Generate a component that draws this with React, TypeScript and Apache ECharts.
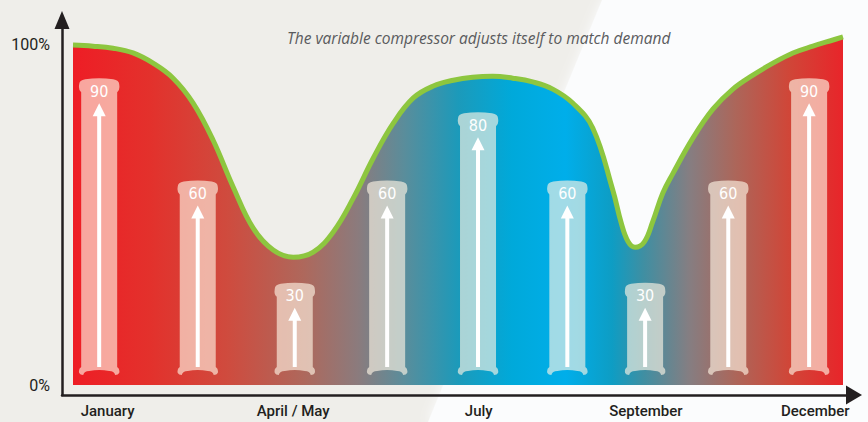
import React, { useEffect, useRef } from "react";
import * as echarts from "echarts";

// Position along the year (0 = start of the plotted area, 100 = end)
const curvePos = [0, 2.6, 5.2, 7.8, 10.4, 13.0, 15.6, 18.2, 20.8, 23.4, 26.0, 28.6, 31.2, 33.8, 36.4, 39.0, 41.6, 44.2, 46.8, 49.4, 51.9, 54.5, 57.1, 59.7, 62.3, 64.9, 67.5, 70.1, 71.2, 72.1, 73.0, 74.2, 75.3, 76.6, 77.9, 80.5, 83.1, 85.7, 88.3, 90.9, 93.5, 96.1, 98.7, 100];
// Compressor demand (%)
const curveValues = [99.7, 99.4, 98.8, 97.4, 94.4, 90.0, 82.7, 71.8, 58.1, 46.0, 39.6, 37.5, 39.0, 44.9, 54.8, 66.6, 76.8, 84.2, 87.7, 89.4, 90.3, 90.6, 90.0, 88.9, 86.8, 82.7, 75.4, 57.2, 47.5, 42.0, 40.4, 42.0, 48.0, 56.3, 62.0, 72.4, 80.9, 86.8, 90.9, 94.4, 97.4, 99.4, 101.2, 102.1];

const barPos = [3.4, 16.2, 28.8, 40.8, 52.6, 64.2, 74.3, 85.1, 95.6];
const barValues = [90, 60, 30, 60, 80, 60, 30, 60, 90];

const monthLabels = ["January", "April / May", "July", "September", "December"];
const monthLabelPos = [4.5, 28.6, 52.7, 74.4, 96.4];

const yTickValues = [0, 100];

const titleText = "The variable compressor adjusts itself to match demand";

const AXIS_COLOR = "#231f20";
const FONT = "Roboto, 'DejaVu Sans', sans-serif";
const NUM_FONT = "'DejaVu Sans Condensed', 'Liberation Sans Narrow', Roboto, sans-serif";

export default function App() {
  const ref = useRef<HTMLDivElement>(null);

  useEffect(() => {
    if (!ref.current) return;
    const chart = echarts.init(ref.current, undefined, { renderer: "svg" });

    const gradient = new echarts.graphic.LinearGradient(0, 0, 1, 0, [
      { offset: 0, color: "#ee1d25" },
      { offset: 0.1, color: "#e3312c" },
      { offset: 0.2, color: "#cf4b3e" },
      { offset: 0.3, color: "#ae685c" },
      { offset: 0.37, color: "#8b7b7d" },
      { offset: 0.43, color: "#5a8d9b" },
      { offset: 0.5, color: "#1c9aba" },
      { offset: 0.57, color: "#00a9da" },
      { offset: 0.64, color: "#00aeea" },
      { offset: 0.7, color: "#0e9dc4" },
      { offset: 0.74, color: "#3e8fa3" },
      { offset: 0.8, color: "#857e82" },
      { offset: 0.86, color: "#ac665a" },
      { offset: 0.93, color: "#d04638" },
      { offset: 1, color: "#e8252a" },
    ]);

    const option: any = {
      animation: false,
      backgroundColor: "#efeeea",
      title: {
        text: titleText,
        left: 282,
        top: 25,
        textStyle: {
          fontFamily: "'Open Sans', Roboto, sans-serif",
          fontStyle: "italic",
          fontWeight: "normal",
          fontSize: 15.5,
          color: "#5a5b5d",
        },
      },
      graphic: [
        {
          type: "polygon",
          z: -10,
          silent: true,
          shape: { points: [[602, 0], [868, 0], [868, 422], [428, 422]] },
          style: { fill: "#fbfcfd", shadowBlur: 12, shadowColor: "#fbfcfd" },
        },
      ],
      grid: [
        { left: 62, top: 20, right: 14, bottom: 27 },
        { left: 73, top: 10, right: 25, bottom: 37 },
      ],
      xAxis: [
        {
          gridIndex: 0,
          type: "value",
          min: 0,
          max: 1,
          axisLine: {
            show: true,
            symbol: ["none", "triangle"],
            symbolSize: [19, 16],
            lineStyle: { color: AXIS_COLOR, width: 2.5 },
          },
          axisTick: { show: false },
          axisLabel: { show: false },
          splitLine: { show: false },
        },
        {
          gridIndex: 1,
          type: "value",
          min: 0,
          max: 100,
          axisLine: { show: false },
          axisTick: { show: false },
          splitLine: { show: false },
          axisLabel: {
            customValues: monthLabelPos,
            formatter: (v: number) => {
              const i = monthLabelPos.findIndex((p) => Math.abs(p - v) < 1e-6);
              return i >= 0 ? monthLabels[i] : "";
            },
            margin: 18,
            fontFamily: FONT,
            fontSize: 15,
            fontWeight: 500,
            color: AXIS_COLOR,
          },
        },
      ],
      yAxis: [
        {
          gridIndex: 0,
          type: "value",
          min: 0,
          max: 1,
          axisLine: {
            show: true,
            symbol: ["none", "triangle"],
            symbolSize: [15, 18],
            lineStyle: { color: AXIS_COLOR, width: 2.5 },
          },
          axisTick: { show: false },
          axisLabel: { show: false },
          splitLine: { show: false },
        },
        {
          gridIndex: 1,
          type: "value",
          min: 0,
          max: 110,
          axisLine: { show: false },
          axisTick: { show: false },
          splitLine: { show: false },
          axisLabel: {
            customValues: yTickValues,
            formatter: (v: number) => `${v}%`,
            margin: 23,
            fontFamily: FONT,
            fontSize: 16,
            color: AXIS_COLOR,
          },
        },
      ],
      series: [
        {
          type: "line",
          xAxisIndex: 1,
          yAxisIndex: 1,
          data: curvePos.map((p, i) => [p, curveValues[i]]),
          smooth: 0.4,
          showSymbol: false,
          clip: false,
          z: 2,
          lineStyle: { color: "#8dc63f", width: 5 },
          areaStyle: { color: gradient, opacity: 1 },
        },
        {
          type: "custom",
          xAxisIndex: 1,
          yAxisIndex: 1,
          z: 5,
          data: barPos.map((p, i) => [p, barValues[i]]),
          renderItem: (params: any, api: any) => {
            const x = api.value(0);
            const v = api.value(1);
            const top = api.coord([x, v]);
            const cx = top[0];
            const T = top[1];
            const B = api.coord([x, 0])[1] - 10;
            const P = (dx: number, y: number) => `${cx + dx} ${y}`;
            const d = [
              `M ${P(-18, T + 14)}`,
              `Q ${P(-21, T + 12)} ${P(-20, T + 6)}`,
              `Q ${P(-20, T + 2)} ${P(-14, T + 1)}`,
              `Q ${P(0, T - 1)} ${P(14, T + 1)}`,
              `Q ${P(20, T + 2)} ${P(20, T + 6)}`,
              `Q ${P(21, T + 12)} ${P(18, T + 14)}`,
              `L ${P(18, B - 8)}`,
              `Q ${P(21, B - 6)} ${P(20, B - 2)}`,
              `Q ${P(19, B)} ${P(16, B)}`,
              `Q ${P(15, B - 4)} ${P(10, B - 4)}`,
              `Q ${P(0, B - 6)} ${P(-10, B - 4)}`,
              `Q ${P(-15, B - 4)} ${P(-16, B)}`,
              `Q ${P(-19, B)} ${P(-20, B - 2)}`,
              `Q ${P(-21, B - 6)} ${P(-18, B - 8)}`,
              "Z",
            ].join(" ");
            const tip = T + 25;
            const headBase = tip + 13;
            const shaftBottom = B - 8;
            return {
              type: "group",
              children: [
                {
                  type: "path",
                  shape: { pathData: d },
                  style: { fill: "rgba(255,245,230,0.63)" },
                },
                {
                  type: "text",
                  style: {
                    text: String(v),
                    x: cx,
                    y: T + 13,
                    align: "center",
                    verticalAlign: "middle",
                    fill: "#ffffff",
                    fontFamily: NUM_FONT,
                    fontSize: 16,
                  },
                },
                {
                  type: "rect",
                  shape: { x: cx - 2, y: headBase - 1, width: 4, height: shaftBottom - headBase + 1 },
                  style: { fill: "#ffffff" },
                },
                {
                  type: "polygon",
                  shape: { points: [[cx, tip], [cx - 6.5, headBase], [cx + 6.5, headBase]] },
                  style: { fill: "#ffffff" },
                },
              ],
            };
          },
        },
      ],
    };

    chart.setOption(option);
    return () => chart.dispose();
  }, []);

  return (
    <div
      ref={ref}
      style={{ position: "fixed", left: 0, top: 0, width: 868, height: 422 }}
    />
  );
}
